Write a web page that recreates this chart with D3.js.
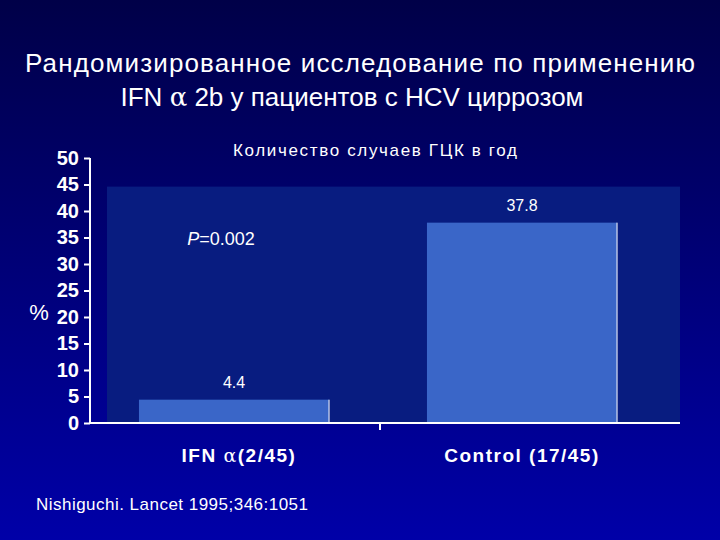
<!DOCTYPE html>
<html><head><meta charset="utf-8">
<script src="https://cdn.jsdelivr.net/npm/d3@7"></script>
<style>body{margin:0;}svg{display:block;}</style>
</head><body>
<svg id="chart" width="720" height="540"></svg>
<script>
var categories = ['IFN', 'Control (17/45)'];
var values = [4.4, 37.8];
var valueLabels = ['4.4', '37.8'];
var yTicks = [0, 5, 10, 15, 20, 25, 30, 35, 40, 45, 50];

var svg = d3.select('#chart');
var defs = svg.append('defs');
var grad = defs.append('linearGradient').attr('id', 'bg').attr('x1', 0).attr('y1', 0).attr('x2', 0).attr('y2', 1);
grad.append('stop').attr('offset', '0%').attr('stop-color', '#000048');
grad.append('stop').attr('offset', '100%').attr('stop-color', '#0000a8');
svg.append('rect').attr('width', 720).attr('height', 540).attr('fill', 'url(#bg)');

var font = 'Liberation Sans, Arial, sans-serif';

// Title
svg.append('text').attr('x', 360).attr('y', 72).attr('text-anchor', 'middle')
  .attr('fill', '#fff').attr('font-family', font).attr('font-size', 26)
  .attr('textLength', 670).text('Рандомизированное исследование по применению');
var t2 = svg.append('text').attr('x', 352).attr('y', 106).attr('text-anchor', 'middle')
  .attr('fill', '#fff').attr('font-family', font).attr('font-size', 26);
t2.append('tspan').text('IFN ');
t2.append('tspan').attr('font-family', 'DejaVu Serif, serif').text('α');
t2.append('tspan').text(' 2b у пациентов с HCV циррозом');

svg.append('text').attr('x', 375).attr('y', 156).attr('text-anchor', 'middle')
  .attr('fill', '#fff').attr('font-family', font).attr('font-size', 17)
  .attr('textLength', 284).text('Количество случаев ГЦК в год');

var y = d3.scaleLinear().domain([0, 50]).range([423, 158]);
var x = d3.scaleBand().domain(categories).range([90, 666]).paddingInner(0.34).paddingOuter(0.17);

// plot area
svg.append('rect').attr('x', 107).attr('y', y(44.6)).attr('width', 573).attr('height', y(0) - y(44.6))
  .attr('fill', '#081c80');

svg.selectAll('rect.bar').data(values).enter().append('rect').attr('class', 'bar')
  .attr('x', function(d, i) { return x(categories[i]); })
  .attr('y', function(d) { return y(d); })
  .attr('width', x.bandwidth())
  .attr('height', function(d) { return y(0) - y(d); })
  .attr('fill', '#3a66c8');
svg.selectAll('line.edge').data(values).enter().append('line')
  .attr('x1', function(d, i) { return x(categories[i]) + x.bandwidth(); })
  .attr('x2', function(d, i) { return x(categories[i]) + x.bandwidth(); })
  .attr('y1', function(d) { return y(d); }).attr('y2', y(0))
  .attr('stroke', '#fff').attr('stroke-width', 1);

svg.selectAll('text.val').data(values).enter().append('text')
  .attr('x', function(d, i) { return x(categories[i]) + x.bandwidth() / 2; })
  .attr('y', function(d) { return y(d) - 12; })
  .attr('text-anchor', 'middle').attr('fill', '#fff').attr('font-family', font).attr('font-size', 16)
  .text(function(d, i) { return valueLabels[i]; });

var p = svg.append('text').attr('x', 221).attr('y', 245).attr('text-anchor', 'middle')
  .attr('fill', '#fff').attr('font-family', font).attr('font-size', 18);
p.append('tspan').attr('font-style', 'italic').text('P');
p.append('tspan').text('=0.002');

// y axis
var yAxis = svg.append('g').attr('transform', 'translate(90,0)')
  .call(d3.axisLeft(y).tickValues(yTicks).tickSize(6).tickPadding(5));
yAxis.select('.domain').attr('stroke', '#fff').attr('stroke-width', 2).attr('d', 'M0,' + y(50) + 'V' + y(0));
yAxis.selectAll('.tick line').attr('stroke', '#fff').attr('stroke-width', 2);
yAxis.selectAll('.tick text').attr('fill', '#fff').attr('font-family', font)
  .attr('font-size', 20).attr('font-weight', 'bold');

svg.append('text').attr('x', 39).attr('y', 320).attr('text-anchor', 'middle')
  .attr('fill', '#fff').attr('font-family', font).attr('font-size', 22).text('%');

// x axis
svg.append('line').attr('x1', 90).attr('x2', 680).attr('y1', y(0)).attr('y2', y(0))
  .attr('stroke', '#fff').attr('stroke-width', 2);
svg.append('line').attr('x1', 380).attr('x2', 380).attr('y1', y(0)).attr('y2', y(0) + 7)
  .attr('stroke', '#fff').attr('stroke-width', 2);

var xl = svg.append('text').attr('x', x(categories[0]) + x.bandwidth() / 2 + 5).attr('y', 462)
  .attr('text-anchor', 'middle').attr('fill', '#fff').attr('font-family', font)
  .attr('font-size', 19).attr('font-weight', 'bold').attr('letter-spacing', 1.5);
xl.append('tspan').text('IFN  ');
xl.append('tspan').attr('font-family', 'DejaVu Serif, serif').attr('font-weight', 'normal').text('α');
xl.append('tspan').text('(2/45)');
svg.append('text').attr('x', x(categories[1]) + x.bandwidth() / 2).attr('y', 462)
  .attr('text-anchor', 'middle').attr('fill', '#fff').attr('font-family', font)
  .attr('font-size', 19).attr('font-weight', 'bold').attr('letter-spacing', 1.5).text(categories[1]);

svg.append('text').attr('x', 36).attr('y', 510).attr('fill', '#fff').attr('font-family', font)
  .attr('font-size', 17).attr('textLength', 272).text('Nishiguchi. Lancet 1995;346:1051');
</script>
</body></html>
